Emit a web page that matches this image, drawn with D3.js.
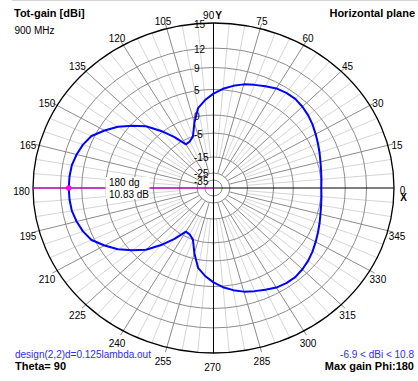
<!DOCTYPE html>
<html>
<head>
<meta charset="utf-8">
<script src="https://cdn.jsdelivr.net/npm/d3@7"></script>
<style>
  html, body { margin: 0; padding: 0; background: #fff; }
  svg { display: block; font-family: "Liberation Sans", Arial, sans-serif; }
</style>
</head>
<body>
<svg id="chart" width="418" height="381"></svg>
<script>
// Azimuth angles (degrees) and total gain (dBi), horizontal plane, 900 MHz
const azimuthDeg = [0, 5, 10, 15, 20, 25, 30, 35, 40, 45, 50, 55, 60, 65, 70, 75, 80, 85, 90,
  95, 100, 105, 110, 115, 120, 125, 130, 135, 140, 145, 150, 155, 160, 165, 170, 175, 180,
  185, 190, 195, 200, 205, 210, 215, 220, 225, 230, 235, 240, 245, 250, 255, 260, 265, 270,
  275, 280, 285, 290, 295, 300, 305, 310, 315, 320, 325, 330, 335, 340, 345, 350, 355];
const gainDbi = [5.0, 5.1, 5.25, 5.5, 5.85, 6.25, 6.7, 7.2, 7.65, 8.0, 8.25, 8.2, 8.0, 7.5, 7.05, 6.6, 5.95, 5.2, 4.2,
  3.0, 1.6, -1.5, -5.0, -6.5, -6.9, -3.0, 0.3, 2.8, 4.7, 6.5, 8.0, 9.4, 10.0, 10.4, 10.7, 10.8, 10.83,
  10.8, 10.7, 10.4, 10.0, 9.4, 8.0, 6.5, 4.7, 2.8, 0.3, -3.0, -6.9, -6.5, -5.0, -1.5, 1.6, 3.0, 4.2,
  5.2, 5.95, 6.6, 7.05, 7.5, 8.0, 8.2, 8.25, 8.0, 7.65, 7.2, 6.7, 6.25, 5.85, 5.5, 5.25, 5.1];

// Gain rings (dBi) and azimuth tick labels (degrees)
const ringTicks = [15, 12, 9, 5, 0, -5, -15, -25, -35];
const angleTicks = [0, 15, 30, 45, 60, 75, 90, 105, 120, 135, 150, 165, 180,
  195, 210, 225, 240, 255, 270, 285, 300, 315, 330, 345];

const maxAngle = 180;
const maxGain = 10.83;

const svg = d3.select("#chart");
const cx = 213.5, cy = 188, Rx = 180.5, Ry = 165;

// Log-like radial scale: dBi -> fraction of the outer radius
const rScale = d3.scaleLinear()
  .domain([-45, -35, -25, -15, -5, 0, 5, 9, 12, 15])
  .range([0, 0.048, 0.091, 0.188, 0.333, 0.442, 0.597, 0.730, 0.848, 1])
  .clamp(true);
const aScale = d3.scaleLinear().domain([0, 360]).range([0, 2 * Math.PI]);

const px = (deg, f) => cx + Rx * f * Math.cos(aScale(deg));
const py = (deg, f) => cy - Ry * f * Math.sin(aScale(deg));

// top frame line
svg.append("line").attr("x1", 12).attr("x2", 418).attr("y1", 0.5).attr("y2", 0.5)
  .attr("stroke", "#d4d4d4");

const grid = svg.append("g");

// fine spokes every 5 degrees
d3.range(0, 360, 5).filter(a => a % 15 !== 0).forEach(a => {
  grid.append("line")
    .attr("x1", px(a, rScale(-15))).attr("y1", py(a, rScale(-15)))
    .attr("x2", px(a, 1)).attr("y2", py(a, 1))
    .attr("stroke", "#d6d6d6").attr("stroke-width", 1);
});
// main spokes every 15 degrees, with a short tick beyond the rim
angleTicks.filter(a => a % 90 !== 0).forEach(a => {
  grid.append("line")
    .attr("x1", px(a, rScale(-25))).attr("y1", py(a, rScale(-25)))
    .attr("x2", px(a, 1.03)).attr("y2", py(a, 1.03))
    .attr("stroke", "#8c8c8c").attr("stroke-width", 1);
});

// gain rings
ringTicks.slice(1).forEach(v => {
  grid.append("ellipse")
    .attr("cx", cx).attr("cy", cy)
    .attr("rx", Rx * rScale(v)).attr("ry", Ry * rScale(v))
    .attr("fill", "none").attr("stroke", "#8c8c8c").attr("stroke-width", 1);
});
grid.append("ellipse")
  .attr("cx", cx).attr("cy", cy).attr("rx", Rx).attr("ry", Ry)
  .attr("fill", "none").attr("stroke", "#000").attr("stroke-width", 1.3);

// X / Y axes
grid.append("line").attr("x1", cx - Rx).attr("x2", cx + Rx).attr("y1", cy).attr("y2", cy)
  .attr("stroke", "#000");
grid.append("line").attr("x1", cx).attr("x2", cx).attr("y1", cy - Ry).attr("y2", cy + Ry)
  .attr("stroke", "#000");

// max-gain direction marker line
svg.append("line")
  .attr("x1", px(maxAngle, 1)).attr("y1", py(maxAngle, 1))
  .attr("x2", cx).attr("y2", cy)
  .attr("stroke", "#ff00ff").attr("stroke-width", 1.2);

// ring labels
svg.append("g").selectAll("text").data(ringTicks).join("text")
  .attr("x", cx - 19.5)
  .attr("y", d => py(90, rScale(d)) + 4.5)
  .attr("font-size", 10).attr("fill", "#000")
  .text(d => d);

// azimuth labels
const angG = svg.append("g").attr("font-size", 10).attr("fill", "#000");
angleTicks.forEach(a => {
  if (a === 0) {
    angG.append("text").attr("x", cx + 189).attr("y", cy + 5.5)
      .attr("text-anchor", "middle").text("0");
    angG.append("text").attr("x", cx + 190).attr("y", cy + 13)
      .attr("text-anchor", "middle").attr("font-weight", "bold").text("X");
    return;
  }
  const t = angG.append("text")
    .attr("x", cx + 191 * Math.cos(aScale(a)) - 1)
    .attr("y", cy - 176 * Math.sin(aScale(a)) + 3 + 3.6)
    .attr("text-anchor", "middle");
  t.append("tspan").text(a);
  if (a === 90) t.append("tspan").attr("font-weight", "bold").attr("dx", 1).text("Y");
});

// radiation pattern
const pattern = azimuthDeg.map((a, i) => [px(a, rScale(gainDbi[i])), py(a, rScale(gainDbi[i]))]);
svg.append("path")
  .attr("d", d3.line().curve(d3.curveLinearClosed)(pattern))
  .attr("fill", "none").attr("stroke", "#0000ff").attr("stroke-width", 2)
  .attr("stroke-linejoin", "round");

// max gain marker and readout
svg.append("circle")
  .attr("cx", px(maxAngle, rScale(maxGain))).attr("cy", py(maxAngle, rScale(maxGain)))
  .attr("r", 2.8).attr("fill", "#ff00ff");
svg.append("rect").attr("x", cx - 108).attr("y", cy - 11).attr("width", 44).attr("height", 22)
  .attr("fill", "#fff");
svg.append("text").attr("x", cx - 104.5).attr("y", cy - 2.5).attr("font-size", 10)
  .text(maxAngle + " dg");
svg.append("text").attr("x", cx - 104.5).attr("y", cy + 9.5).attr("font-size", 10)
  .text(maxGain.toFixed(2) + " dB");

// header and footer texts
svg.append("text").attr("x", 14).attr("y", 17).attr("font-size", 11).attr("font-weight", "bold")
  .text("Tot-gain [dBi]");
svg.append("text").attr("x", 14.5).attr("y", 34).attr("font-size", 10)
  .text("900 MHz");
svg.append("text").attr("x", 415).attr("y", 17).attr("font-size", 11).attr("font-weight", "bold")
  .attr("text-anchor", "end").text("Horizontal plane");
svg.append("text").attr("x", 15).attr("y", 358).attr("font-size", 10).attr("fill", "#2b2bff")
  .text("design(2,2)d=0.125lambda.out");
svg.append("text").attr("x", 15).attr("y", 370).attr("font-size", 11).attr("font-weight", "bold")
  .text("Theta= 90");
svg.append("text").attr("x", 414).attr("y", 358).attr("font-size", 10).attr("fill", "#2b2bff")
  .attr("text-anchor", "end").text("-6.9 < dBi < 10.8");
svg.append("text").attr("x", 414).attr("y", 370).attr("font-size", 11).attr("font-weight", "bold")
  .attr("text-anchor", "end").text("Max gain Phi:180");
</script>
</body>
</html>
